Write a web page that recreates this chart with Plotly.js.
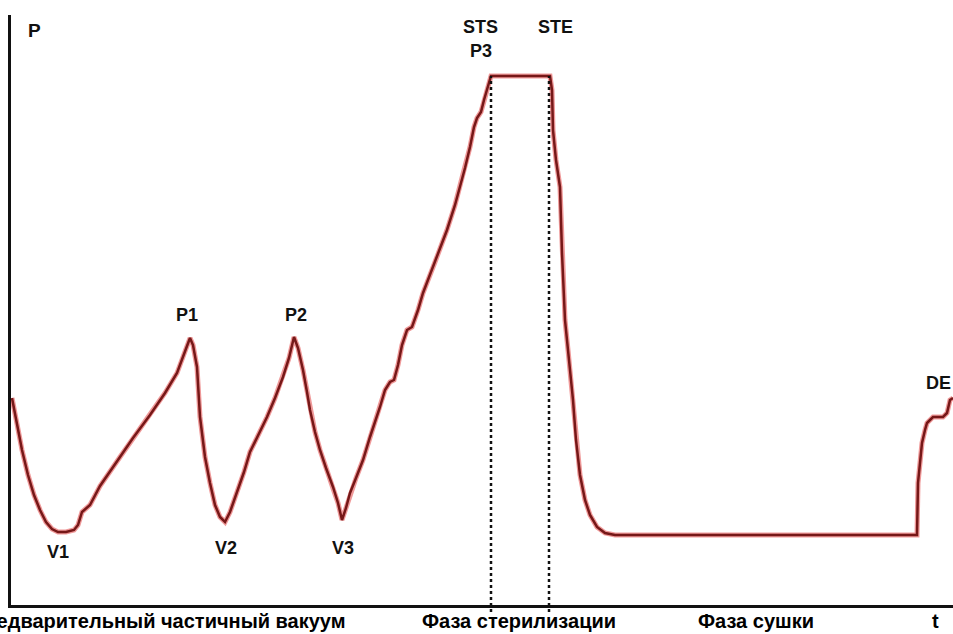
<!DOCTYPE html>
<html>
<head>
<meta charset="utf-8">
<script src="https://cdn.plot.ly/plotly-3.0.1.min.js"></script>
<style>html,body{margin:0;padding:0;background:#fff;}#chart{width:953px;height:634px;}</style>
</head>
<body>
<div id="chart"></div>
<script>
// Time (arbitrary units) along the cycle
const t = [12,17,22,28,34,40,46,52,58,66,74,78,82,90,100,120,133,150,165,177,183,190,
  193,197,200,205,210,215,220,225,230,237,244,250,258,267,275,283,289,294,
  298,303,307,310,315,320,326,333,338,342,346,350,356,363,370,376,380,385,390,394,
  398,402,407,412,418,423,435,447,455,460,465,470,474,477,481,484,487,491,
  550,552,553,556,560,562,565,568,570,573,576,580,585,590,597,605,615,
  917,918,920,922,925,927,930,933,943,947,950,953];
// Pressure (arbitrary units)
const p = [207,180,155,130,110,95,83,76,73,73,75,80,93,100,119,148,167,190,212,232,248,267,
  260,238,188,148,122,100,88,83,93,112,133,153,169,188,207,228,247,268,
  257,235,213,195,173,155,137,118,102,85,97,112,127,145,168,185,198,215,223,225,
  240,260,275,278,295,312,343,375,400,418,437,458,478,487,493,505,515,529,
  529,515,475,445,418,352,285,255,232,205,165,130,105,90,78,72,70,
  70,122,145,162,175,182,185,188,188,192,205,207];

// Labelled points
const pointLabels = ['V1','P1','V2','P2','V3','P3','DE'];
const pointT = [58,187,226,296,343,481,953];
const pointP = [53,290,57,290,57,554,222];
// Phase labels
const phaseLabels = ['Предварительный частичный вакуум','Фаза стерилизации','Фаза сушки'];
const phaseT = [348,519,756];
// Sterilization start / end
const stsT = 491, steT = 549, plateauP = 529;

const xr = [11, 953], yr = [0, 590];
const px = v => (v - xr[0]) / (xr[1] - xr[0]);
const py = v => (v - yr[0]) / (yr[1] - yr[0]);

const lblFont = {family:'Liberation Sans, Arial, sans-serif', size:18, color:'#111', weight:'bold'};
const phFont = {family:'Liberation Sans, Arial, sans-serif', size:20, color:'#000', weight:'bold'};

const annotations = [];
pointLabels.forEach((s,i)=>{
  annotations.push({x:pointT[i], y:pointP[i], xref:'x', yref:'y', text:s, showarrow:false,
    xanchor: s==='DE' ? 'right' : 'center', yanchor:'middle', font:lblFont});
});
annotations.push({x:480, y:578, xref:'x', yref:'y', text:'STS', showarrow:false, xanchor:'center', yanchor:'middle', font:lblFont});
annotations.push({x:555, y:578, xref:'x', yref:'y', text:'STE', showarrow:false, xanchor:'center', yanchor:'middle', font:lblFont});
annotations.push({x:34, y:575, xref:'x', yref:'y', text:'P', showarrow:false, xanchor:'center', yanchor:'middle', font:Object.assign({}, lblFont, {size:19})});
annotations.push({x:px(935), y:py(-29), xref:'paper', yref:'paper', text:'t', showarrow:false, xanchor:'center', yanchor:'bottom', font:phFont});
phaseLabels.forEach((s,i)=>{
  annotations.push({x:phaseT[i], y:py(-29), xref:'x', yref:'paper', text:s, showarrow:false,
    xanchor: i===0 ? 'right' : 'center', yanchor:'bottom', font:phFont});
});

const dotted = {type:'line', xref:'paper', yref:'paper', line:{color:'#111', width:2.5, dash:'dot'}};
const shapes = [
  Object.assign({}, dotted, {x0:px(stsT), x1:px(stsT), y0:py(-7), y1:py(plateauP)}),
  Object.assign({}, dotted, {x0:px(steT), x1:px(steT), y0:py(-7), y1:py(plateauP)})
];

const traces = [
  {x:t, y:p, mode:'lines', line:{color:'rgba(225,70,70,0.55)', width:5}, hoverinfo:'skip'},
  {x:t, y:p, mode:'lines', line:{color:'#761818', width:2.5}}
];

const layout = {
  width:953, height:634,
  margin:{l:11, r:0, t:15, b:29, pad:0},
  paper_bgcolor:'#fff', plot_bgcolor:'#fff',
  showlegend:false,
  xaxis:{range:xr, showgrid:false, zeroline:false, showticklabels:false, ticks:'',
         showline:true, linecolor:'#111', linewidth:3},
  yaxis:{range:yr, showgrid:false, zeroline:false, showticklabels:false, ticks:'',
         showline:true, linecolor:'#111', linewidth:3},
  annotations: annotations,
  shapes: shapes
};
Plotly.newPlot('chart', traces, layout, {displayModeBar:false, staticPlot:true});
</script>
</body>
</html>
